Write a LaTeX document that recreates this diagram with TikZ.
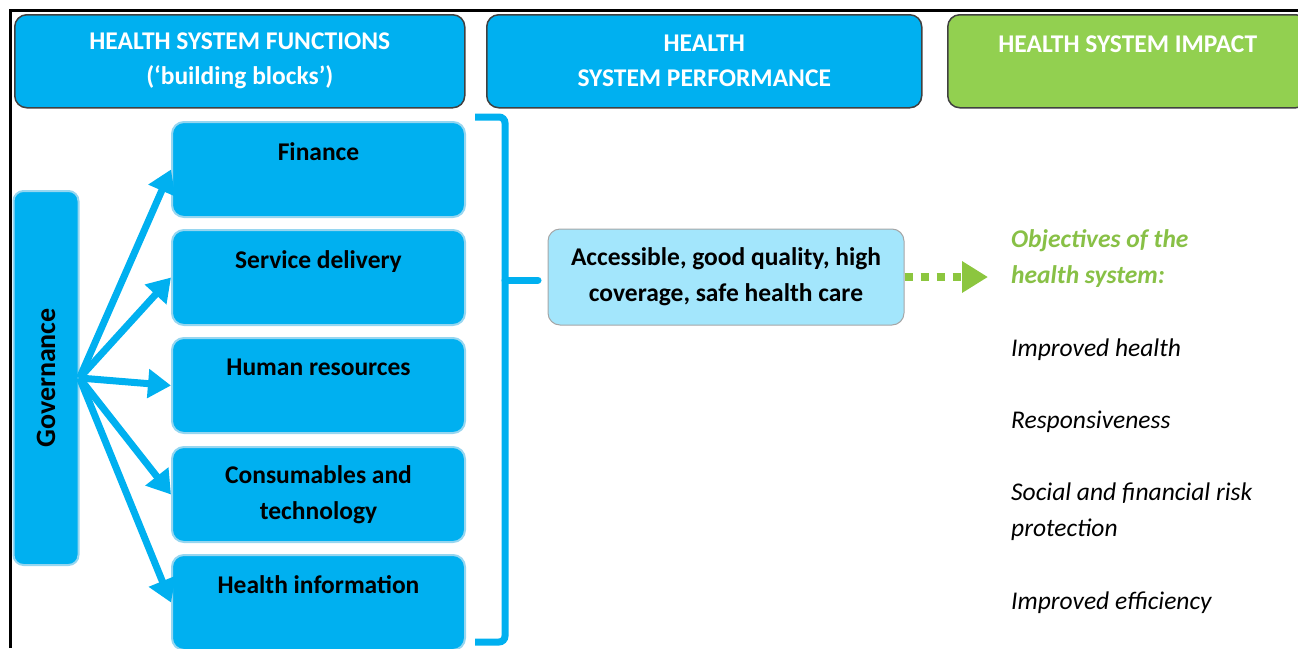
\documentclass[tikz,border=0pt]{standalone}
\usepackage{fontspec}
\setmainfont{Carlito}
\usetikzlibrary{arrows.meta,positioning}
\definecolor{hsblue}{RGB}{0,176,240}
\definecolor{hsline}{RGB}{150,214,240}
\definecolor{hslight}{RGB}{163,230,252}
\definecolor{hsgreen}{RGB}{146,208,80}
\definecolor{hsdot}{RGB}{140,198,63}
\definecolor{hsobj}{RGB}{136,192,70}
\tikzset{
    head/.style={draw=black!75, line width=1.5pt, rounded corners=12pt, fill=hsblue, text=white, font=\bfseries\fontsize{25.5}{35}\selectfont, align=center, minimum height=93pt, anchor=north west},
    blk/.style={draw=hsline, line width=2pt, rounded corners=12pt, fill=hsblue, font=\bfseries\fontsize{25.5}{36}\selectfont, align=center, minimum width=293pt, minimum height=95pt, anchor=north west},
    govbox/.style={draw=hsline, line width=2pt, rounded corners=10pt, fill=hsblue, font=\bfseries\fontsize{28}{36}\selectfont, rotate=90, minimum width=374pt, minimum height=65pt},
    perfbox/.style={draw=black!35, line width=1pt, rounded corners=12pt, fill=hslight, font=\bfseries\fontsize{25.5}{36}\selectfont, align=center, minimum width=356pt, minimum height=96pt},
    feed/.style={-{Triangle[length=23pt,width=28pt]}, line width=7pt, hsblue},
    goto/.style={-{Triangle[length=26pt,width=30pt]}, line width=8pt, hsdot, dash pattern=on 8pt off 8pt},
    goal/.style={font=\itshape\fontsize{25.5}{36}\selectfont, align=left, anchor=west, inner sep=0pt}
}

\begin{document}
\begin{tikzpicture}[x=1pt,y=-1pt]
\useasboundingbox (0,0) rectangle (1298,648);
\draw[line width=3pt] (10,648) -- (10,10) -- (1298,10);

% column heads
\node[head, minimum width=450pt] at (14,14) (func) {HEALTH SYSTEM FUNCTIONS\\(‘building blocks’)};
\node[head, minimum width=435pt] at (486,14) (perfh) {HEALTH\\SYSTEM PERFORMANCE};
\node[head, fill=hsgreen, minimum width=360pt] at (947,14) (imp) {HEALTH SYSTEM IMPACT\\~};

% building blocks
\node[govbox] at (46,378) (gov) {Governance};
\node[blk] at (171,121) (fin) {Finance\\~};
\node[blk] at (171,229) (srv) {Service delivery\\~};
\node[blk] at (171,337) (hr) {Human resources\\~};
\node[blk] at (171,446) (cons) {Consumables and\\technology};
\node[blk] at (171,554) (info) {Health information\\~};
\foreach \b in {fin,srv,hr,cons,info}
    \draw[feed] (gov.south) -- (\b.west);

% bracket
\draw[line width=7pt, hsblue, rounded corners=6pt] (475,117) -| (505,642) -- (475,642);
\draw[line width=7pt, hsblue, line cap=round] (505,280) -- (538,280);

% performance
\node[perfbox] at (726,277) (perf) {Accessible, good quality, high\\coverage, safe health care};

% impact
\node[goal, font=\bfseries\itshape\fontsize{25.5}{36}\selectfont, text=hsobj] at (1011,259) (obj) {Objectives of the\\health system:};
\draw[goto, shorten >=23pt] (perf.east) -- (perf.east -| obj.west);
\node[goal] at (1011,350) (g1) {Improved health};
\node[goal] at (1011,422) (g2) {Responsiveness};
\node[goal] at (1011,512) (g3) {Social and financial risk\\protection};
\node[goal] at (1011,603) (g4) {Improved efficiency};
\end{tikzpicture}
\end{document}
